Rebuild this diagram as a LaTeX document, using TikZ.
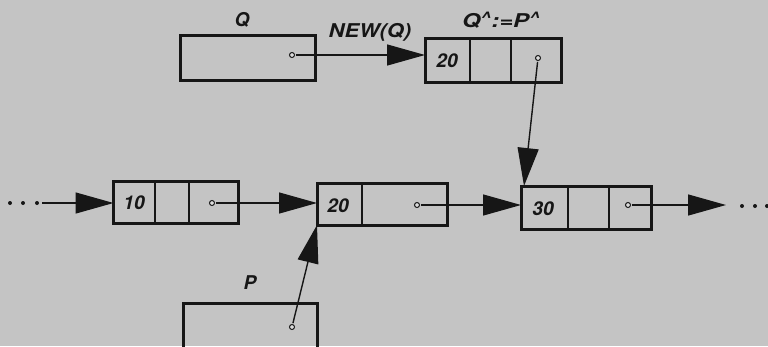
\documentclass[tikz,border=0pt]{standalone}
\usepackage{fontspec}
\setmainfont{TeX Gyre Heros}
\usetikzlibrary{arrows.meta}
\definecolor{paper}{RGB}{196,196,196}
\definecolor{ink}{RGB}{22,22,22}
\tikzset{
  rec/.style={draw=ink, line width=3pt, rectangle, inner sep=0pt, outer sep=0pt},
  div/.style={draw=ink, line width=1.8pt},
  lbl/.style={text=ink, font=\fontsize{19}{21}\selectfont\bfseries\itshape, inner sep=0pt},
  dotn/.style={circle, draw=ink, fill=paper!60!white, line width=1pt, minimum size=5pt, inner sep=0pt},
  conn/.style={draw=ink, line width=1.4pt, -{Triangle[length=38pt,width=21pt]}, shorten <=1pt},
  ell/.style={circle, fill=ink, minimum size=4pt, inner sep=0pt}
}
\begin{document}
\begin{tikzpicture}[x=1pt,y=-1pt]
\fill[paper] (0,0) rectangle (768,346);
\useasboundingbox (0,0) rectangle (768,346);
\clip (0,0) rectangle (768,346);

% top row
\node[rec, minimum width=135pt, minimum height=45pt] (q) at (247.5,57.5) {};
\node[lbl] (lq) at (242,20) {Q};
\node[dotn] (dq) at (292,55) {};
\node[rec, minimum width=136pt, minimum height=44pt] (t20) at (493,60) {};
\draw[div] (470,38) -- (470,82);
\draw[div] (511,38) -- (511,82);
\node[lbl] (vt20) at (447,61) {20};
\node[dotn] (dt20) at (538,58) {};
\node[lbl] (lnew) at (370,32) {\scalebox{1.15}[1]{NEW(Q)}};
\node[lbl] (lassign) at (501,20) {\scalebox{1.25}[1]{Q\raisebox{0.45ex}{\fontsize{15}{16}\selectfont\^{}}:=P\raisebox{0.45ex}{\fontsize{15}{16}\selectfont\^{}}}};

% middle row
\node[rec, minimum width=125pt, minimum height=42pt] (n10) at (176,202) {};
\draw[div] (155,181) -- (155,223);
\draw[div] (189,181) -- (189,223);
\node[lbl] (v10) at (134,203) {10};
\node[dotn] (d10) at (212,203) {};

\node[rec, minimum width=130pt, minimum height=42pt] (n20) at (382,204) {};
\draw[div] (362,183) -- (362,225);
\node[lbl] (v20) at (338,206) {20};
\node[dotn] (d20) at (417,205) {};

\node[rec, minimum width=130pt, minimum height=43pt] (n30) at (586,207.5) {};
\draw[div] (568,186) -- (568,229);
\draw[div] (609,186) -- (609,229);
\node[lbl] (v30) at (543,209) {30};
\node[dotn] (d30) at (628,205) {};

% ellipses
\node[ell] (e1) at (10,203) {};
\node[ell] (e2) at (23,203) {};
\node[ell] (e3) at (37,203) {};
\node[ell] (e4) at (742,206) {};
\node[ell] (e5) at (755,206) {};
\node[ell] (e6) at (767,206) {};
\coordinate (endr) at (726,206);

% bottom
\node[lbl] (lp) at (250,283) {P};
\node[rec, minimum width=134pt, minimum height=50pt] (p) at (250,328) {};
\node[dotn] (dp) at (292,327) {};

% connectors
\draw[conn, shorten <=3pt] (e3) -- (n10.west |- e3);
\draw[conn] (d10) -- (n20.west |- d10);
\draw[conn] (d20) -- (n30.west |- d20);
\draw[conn] (d30) -- (endr |- d30);
\draw[conn] (dq) -- (t20.west |- dq);
\draw[conn] (dt20) -- ([xshift=-62pt]n30.north);
\draw[conn] (dp) -- (n20.south west);
\end{tikzpicture}
\end{document}
